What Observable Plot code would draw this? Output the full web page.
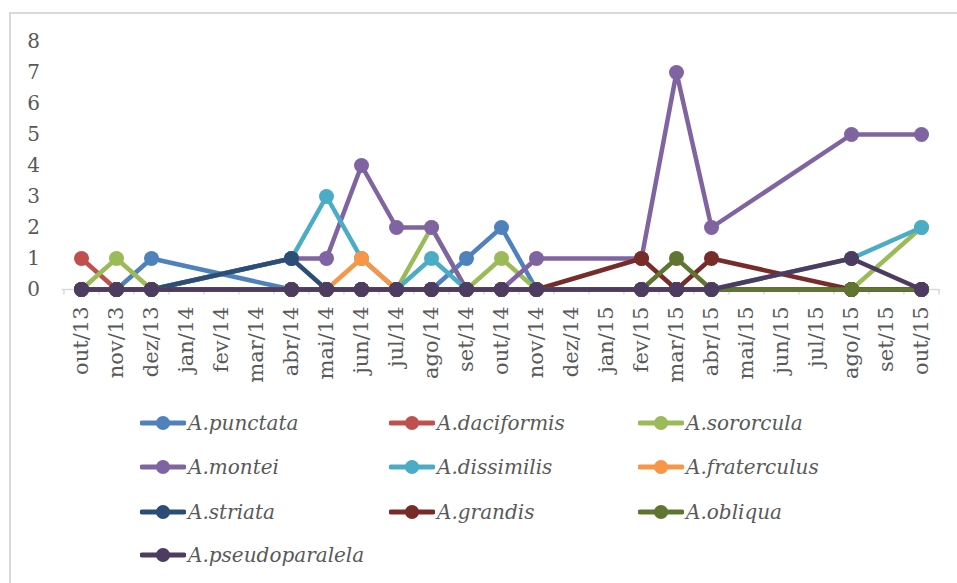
<!DOCTYPE html>
<html>
<head>
<meta charset="utf-8">
<script src="https://cdn.jsdelivr.net/npm/d3@7"></script>
<script src="https://cdn.jsdelivr.net/npm/@observablehq/plot@0.6"></script>
<style>
  html, body { margin: 0; padding: 0; background: #fff; }
  #wrap { position: relative; width: 957px; height: 583px; overflow: hidden; }
  #frame { position: absolute; left: 9px; top: 12px; width: 960px; height: 600px;
           border-top: 2px solid #D9D9D9; border-left: 2px solid #D9D9D9; }
  #chart { position: absolute; left: 0; top: 0; }
  #legend { position: absolute; left: 0; top: 0; width: 957px; height: 583px; }
  .item { position: absolute; display: flex; align-items: center; height: 30px; }
  .item span { font-family: "DejaVu Serif", serif; font-style: italic; font-size: 20px; color: #595959;
               margin-left: 2px; white-space: nowrap; }
</style>
</head>
<body>
<div id="wrap">
  <div id="frame"></div>
  <div id="chart"></div>
  <div id="legend"></div>
</div>
<script>
// All months on the axis
const months = ["out/13","nov/13","dez/13","jan/14","fev/14","mar/14","abr/14","mai/14","jun/14","jul/14",
  "ago/14","set/14","out/14","nov/14","dez/14","jan/15","fev/15","mar/15","abr/15","mai/15","jun/15",
  "jul/15","ago/15","set/15","out/15"];
// Sampled months (points present in the series)
const sampled = ["out/13","nov/13","dez/13","abr/14","mai/14","jun/14","jul/14","ago/14","set/14",
  "out/14","nov/14","fev/15","mar/15","abr/15","ago/15","out/15"];
const yTicks = [0,1,2,3,4,5,6,7,8];

const punctata       = [0,0,1,0,0,0,0,0,1,2,0,0,0,0,0,0];
const daciformis     = [1,0,0,0,0,0,0,0,0,0,0,0,0,0,0,0];
const sororcula      = [0,1,0,0,0,0,0,2,0,1,0,0,0,0,0,2];
const montei         = [0,0,0,1,1,4,2,2,0,0,1,1,7,2,5,5];
const dissimilis     = [0,0,0,1,3,1,0,1,0,0,0,0,0,0,1,2];
const fraterculus    = [0,0,0,0,0,1,0,0,0,0,0,0,0,0,0,0];
const striata        = [0,0,0,1,0,0,0,0,0,0,0,0,0,0,0,0];
const grandis        = [0,0,0,0,0,0,0,0,0,0,0,1,0,1,0,0];
const obliqua        = [0,0,0,0,0,0,0,0,0,0,0,0,1,0,0,0];
const pseudoparalela = [0,0,0,0,0,0,0,0,0,0,0,0,0,0,1,0];

const seriesNames = ["A.punctata","A.daciformis","A.sororcula","A.montei","A.dissimilis","A.fraterculus",
  "A.striata","A.grandis","A.obliqua","A.pseudoparalela"];
const seriesValues = [punctata, daciformis, sororcula, montei, dissimilis, fraterculus, striata, grandis, obliqua, pseudoparalela];
const colors = ["#4F81BD","#C0504D","#9BBB59","#8064A2","#4BACC6","#F79646","#2C4D75","#772C2A","#5F7530","#4D3B62"];

const W = 957, H = 400, mL = 61.5, mR = 17.4, mT = 41, mB = 111;
const step = (W - mL - mR) / months.length;

const marks = [];
marks.push(Plot.ruleY([0], {stroke: "#D9D9D9", strokeWidth: 1.5}));
// category boundary ticks
marks.push(Plot.ruleX(months, {x: d => d, y1: 0, y2: -0.18, dx: -step / 2, stroke: "#D9D9D9", strokeWidth: 1.5}));
marks.push(Plot.ruleX(months.slice(-1), {x: d => d, y1: 0, y2: -0.18, dx: step / 2, stroke: "#D9D9D9", strokeWidth: 1.5}));

seriesValues.forEach((vals, k) => {
  const rows = sampled.map((m, i) => ({month: m, value: vals[i]}));
  marks.push(Plot.line(rows, {x: "month", y: "value", stroke: colors[k], strokeWidth: 4.5,
    strokeLinejoin: "round", strokeLinecap: "round"}));
  marks.push(Plot.dot(rows, {x: "month", y: "value", r: 7.5, fill: colors[k], stroke: "none"}));
});

marks.push(Plot.axisY({ticks: yTicks, tickSize: 0, tickPadding: 22, fontSize: 20, fill: "#595959",
  label: null, tickFormat: d => String(d)}));
marks.push(Plot.axisX({ticks: months, tickSize: 0, tickPadding: 17, tickRotate: -90, fontSize: 21,
  fill: "#595959", label: null}));

const chart = Plot.plot({
  width: W, height: H,
  marginLeft: mL, marginRight: mR, marginTop: mT, marginBottom: mB,
  style: {fontFamily: "DejaVu Serif, serif", background: "transparent", overflow: "visible"},
  x: {type: "point", domain: months, padding: 0.5},
  y: {domain: [0, 8]},
  marks
});
document.getElementById("chart").appendChild(chart);

// Legend
const legend = document.getElementById("legend");
const colX = [140, 389, 638];
const rowY = [423, 467, 512, 555];
seriesNames.forEach((name, k) => {
  const div = document.createElement("div");
  div.className = "item";
  div.style.left = colX[k % 3] + "px";
  div.style.top = (rowY[Math.floor(k / 3)] - 15) + "px";
  const sw = document.createElementNS("http://www.w3.org/2000/svg", "svg");
  sw.setAttribute("width", 46); sw.setAttribute("height", 30);
  const ln = document.createElementNS("http://www.w3.org/2000/svg", "line");
  ln.setAttribute("x1", 2); ln.setAttribute("x2", 44); ln.setAttribute("y1", 15); ln.setAttribute("y2", 15);
  ln.setAttribute("stroke", colors[k]); ln.setAttribute("stroke-width", 5); ln.setAttribute("stroke-linecap", "round");
  const c = document.createElementNS("http://www.w3.org/2000/svg", "circle");
  c.setAttribute("cx", 23); c.setAttribute("cy", 15); c.setAttribute("r", 7); c.setAttribute("fill", colors[k]);
  sw.appendChild(ln); sw.appendChild(c);
  const sp = document.createElement("span");
  sp.textContent = name;
  div.appendChild(sw); div.appendChild(sp);
  legend.appendChild(div);
});
</script>
</body>
</html>
